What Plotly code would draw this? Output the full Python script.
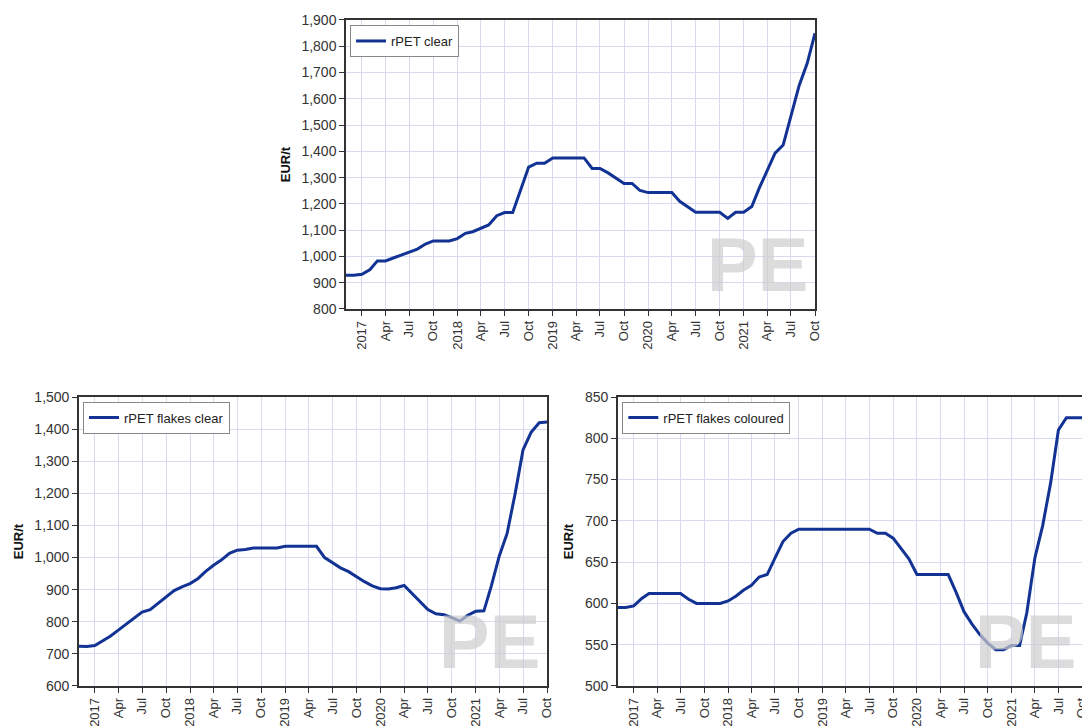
import pandas as pd
import plotly.graph_objects as go

# monthly prices, Nov 2016 - Oct 2021 (EUR/t)
months = pd.date_range("2016-11-01", periods=60, freq="MS")

rpet_clear = [
    928, 928, 932, 950, 983, 983, 994, 1005, 1016, 1028, 1047, 1059,
    1059, 1059, 1068, 1088, 1094, 1107, 1120, 1155, 1167, 1167, 1255, 1340,
    1355, 1355, 1375, 1375, 1375, 1375, 1375, 1335, 1335, 1318, 1297, 1278,
    1278, 1251, 1243, 1243, 1243, 1243, 1210, 1187, 1168, 1168, 1168, 1168,
    1145, 1168, 1168, 1190, 1259, 1329, 1393, 1424, 1540, 1650, 1735, 1850,
]

flakes_clear = [
    724, 723, 726, 740, 755, 774, 793, 812, 830, 838, 857, 878,
    897, 909, 919, 935, 956, 976, 992, 1013, 1023, 1025, 1030, 1030,
    1030, 1030, 1035, 1035, 1035, 1035, 1035, 1000, 985, 968, 956, 940,
    925, 912, 903, 902, 906, 913, 888, 862, 838, 825, 822, 813,
    802, 820, 833, 834, 910, 1005, 1075, 1200, 1335, 1390, 1420, 1422,
]

flakes_coloured = [
    595, 595, 597, 606, 612, 612, 612, 612, 612, 605, 600, 600,
    600, 600, 603, 609, 616, 622, 632, 635, 655, 675, 685, 690,
    690, 690, 690, 690, 690, 690, 690, 690, 690, 685, 685, 679,
    667, 654, 635, 635, 635, 635, 635, 613, 590, 575, 562, 552,
    544, 544, 549, 549, 589, 655, 694, 746, 810, 825, 825, 825,
]

tick_dates = pd.date_range("2017-01-01", "2021-10-01", freq="QS")
tick_labels = [
    "2017", "Apr", "Jul", "Oct", "2018", "Apr", "Jul", "Oct",
    "2019", "Apr", "Jul", "Oct", "2020", "Apr", "Jul", "Oct",
    "2021", "Apr", "Jul", "Oct",
]

LINE = "#123394"
GRID = "#d8dbf0"
FONT = "Liberation Sans, Arial, sans-serif"


def x_axis(domain, anchor):
    return dict(
        domain=domain, anchor=anchor, type="date",
        range=[months[0], months[-1]],
        tickvals=tick_dates, ticktext=tick_labels, tickangle=-90,
        tickfont=dict(size=13, color="#333"),
        ticks="outside", ticklen=5, tickcolor="#333",
        showgrid=True, gridcolor=GRID, gridwidth=1,
        showline=True, linecolor="#333", linewidth=1.5, mirror=True,
        automargin=False,
    )


def y_axis(domain, anchor, rng, step):
    return dict(
        domain=domain, anchor=anchor, range=rng, dtick=step,
        tickformat=",d", tickfont=dict(size=14, color="#333"),
        ticks="outside", ticklen=5, tickcolor="#333",
        showgrid=True, gridcolor=GRID, gridwidth=1,
        showline=True, linecolor="#333", linewidth=1.5, mirror=True,
        title=dict(text="<b>EUR/t</b>", font=dict(size=13, color="#111"),
                   standoff=8),
        zeroline=False, automargin=False,
    )


def legend_box(x, y):
    return dict(
        x=x, y=y, xanchor="left", yanchor="top",
        bgcolor="white", bordercolor="#888", borderwidth=1,
        font=dict(size=13, color="#222"), itemwidth=30,
        tracegroupgap=0,
    )


fig = go.Figure()

fig.add_trace(go.Scatter(
    x=months, y=rpet_clear, name="rPET clear", mode="lines",
    line=dict(color=LINE, width=3), xaxis="x", yaxis="y", legend="legend",
))
fig.add_trace(go.Scatter(
    x=months, y=flakes_clear, name="rPET flakes clear", mode="lines",
    line=dict(color=LINE, width=3), xaxis="x2", yaxis="y2", legend="legend2",
))
fig.add_trace(go.Scatter(
    x=months, y=flakes_coloured, name="rPET flakes coloured", mode="lines",
    line=dict(color=LINE, width=3), xaxis="x3", yaxis="y3", legend="legend3",
))

top_y = [0.586, 0.9835]
bot_y = [0.0674, 0.4649]

fig.update_layout(
    width=1090, height=727,
    margin=dict(l=0, r=0, t=0, b=0, autoexpand=False),
    paper_bgcolor="white", plot_bgcolor="white",
    font=dict(family=FONT),
    xaxis=x_axis([0.3101, 0.7404], "y"),
    yaxis=y_axis(top_y, "x", [800, 1900], 100),
    xaxis2=x_axis([0.0651, 0.4945], "y2"),
    yaxis2=y_axis(bot_y, "x2", [600, 1500], 100),
    xaxis3=x_axis([0.5596, 0.9855], "y3"),
    yaxis3=y_axis(bot_y, "x3", [500, 850], 50),
    legend=legend_box(0.3138, 0.9766),
    legend2=legend_box(0.0688, 0.4585),
    legend3=legend_box(0.5636, 0.4585),
    showlegend=True,
)

# PE watermark in each panel
for xr, yr in [("x", "y"), ("x2", "y2"), ("x3", "y3")]:
    fig.add_annotation(
        text="<b>PE</b>", xref=xr + " domain", yref=yr + " domain",
        x=0.99, y=0.0, xanchor="right", yanchor="bottom", showarrow=False,
        font=dict(size=76, color="rgba(205,205,205,0.7)",
                  family="Liberation Sans, Arial, sans-serif"),
    )

fig.write_html("out.html")
